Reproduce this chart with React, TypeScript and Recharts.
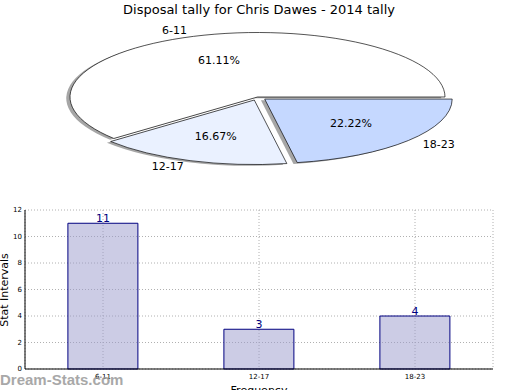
import { PieChart, Pie, Cell, BarChart, Bar, XAxis, YAxis, CartesianGrid, LabelList } from 'recharts';

const categories = ['6-11', '12-17', '18-23'];
const counts = [11, 3, 4];
const pieColors = ['#ffffff', '#eaf1ff', '#c5d8ff'];
const explode = [0, 0.05, 0.05];
const yTicks = [0, 2, 4, 6, 8, 10, 12];

const pieData = categories.map((name, i) => ({ name, value: counts[i] }));
const barData = categories.map((name, i) => ({ name, count: counts[i] }));

// the pie is drawn as a circle and squashed into an ellipse
const R = 187.5;
const K = 64.5 / R;
const CX = 257.5;
const CY = 97 / K;
const FONT = '"DejaVu Sans", sans-serif';

const total = counts.reduce((a, b) => a + b, 0);
function midAngle(i: number) {
  const before = counts.slice(0, i).reduce((a, b) => a + b, 0);
  return ((before + counts[i] / 2) / total) * 360;
}
function offset(i: number) {
  const a = (midAngle(i) * Math.PI) / 180;
  return { dx: Math.cos(a) * explode[i] * R, dy: -Math.sin(a) * explode[i] * R };
}

function makeLabel(own: number) {
  return (p: any) => {
    if (p.index !== own) return null;
    const a = (-p.midAngle * Math.PI) / 180;
    const lx = p.cx + R * 1.1 * Math.cos(a);
    const ly = p.cy + R * 1.1 * Math.sin(a);
    const px = p.cx + R * 0.6 * Math.cos(a);
    const py = p.cy + R * 0.6 * Math.sin(a);
    return (
      <g>
        <text transform={`translate(${lx} ${ly}) scale(1 ${1 / K})`} textAnchor={lx > CX ? 'start' : 'end'}
          dominantBaseline="central" fontSize={11} fontFamily={FONT} fill="#000">{p.name}</text>
        <text transform={`translate(${px} ${py}) scale(1 ${1 / K})`} textAnchor="middle"
          dominantBaseline="central" fontSize={11} fontFamily={FONT} fill="#000">{(p.percent * 100).toFixed(2)}%</text>
      </g>
    );
  };
}

export default function App() {
  return (
    <div style={{ position: 'absolute', left: 0, top: 0, width: 520, height: 390, background: '#fff', overflow: 'hidden', fontFamily: FONT }}>
      <div style={{ position: 'absolute', top: 2, left: 0, width: 518, textAlign: 'center', fontSize: 13 }}>
        Disposal tally for Chris Dawes - 2014 tally
      </div>
      <div style={{ position: 'absolute', left: 0, top: 0, width: 520, height: 600, transform: `scaleY(${K})`, transformOrigin: '0 0' }}>
        <PieChart width={520} height={600} margin={{ top: 0, right: 0, bottom: 0, left: 0 }}>
          {categories.map((c, i) => {
            const o = offset(i);
            return (
              <Pie key={'s' + c} data={pieData} dataKey="value" cx={CX + o.dx - 0.02 * R} cy={CY + o.dy + 0.02 * R}
                outerRadius={R} isAnimationActive={false} label={false}>
                {pieData.map((d, j) => (
                  <Cell key={d.name} fill={j === i ? '#4d4d4d' : 'none'} fillOpacity={0.5} stroke="none" />
                ))}
              </Pie>
            );
          })}
          {categories.map((c, i) => {
            const o = offset(i);
            return (
              <Pie key={c} data={pieData} dataKey="value" cx={CX + o.dx} cy={CY + o.dy}
                outerRadius={R} isAnimationActive={false} labelLine={false} label={makeLabel(i)}>
                {pieData.map((d, j) => (
                  <Cell key={d.name} fill={j === i ? pieColors[j] : 'none'} stroke={j === i ? '#000' : 'none'}
                    strokeWidth={1} vectorEffect="non-scaling-stroke" />
                ))}
              </Pie>
            );
          })}
        </PieChart>
      </div>
      <div style={{ position: 'absolute', left: 0, top: 0 }}>
        <BarChart width={520} height={390} data={barData} margin={{ top: 210, right: 27, bottom: 1, left: 5 }} barCategoryGap="27.5%">
          <CartesianGrid stroke="#b0b0b0" strokeDasharray="1 2" />
          <XAxis dataKey="name" height={20} tickLine={false} tickSize={1} axisLine={{ stroke: '#000' }}
            tick={{ fontSize: 7, fill: '#000', fontFamily: FONT }} tickMargin={4} />
          <XAxis xAxisId="top" dataKey="name" orientation="top" height={0} tick={false} tickLine={false} axisLine={{ stroke: '#000' }} />
          <YAxis width={20} domain={[0, 12]} ticks={yTicks} tickLine={false} tickSize={1} axisLine={{ stroke: '#000' }}
            tick={{ fontSize: 7, fill: '#000', fontFamily: FONT }} tickMargin={2} />
          <YAxis yAxisId="r" orientation="right" width={0} domain={[0, 12]} tick={false} tickLine={false} axisLine={{ stroke: '#000' }} />
          {/* half-transparent fill so the dotted grid shows through the bars */}
          <Bar dataKey="count" fill="#9999cb" fillOpacity={0.5} stroke="#000080" strokeWidth={1} isAnimationActive={false}>
            <LabelList dataKey="count" position="top" offset={1} fill="#000080" fontSize={11} fontFamily={FONT} />
          </Bar>
        </BarChart>
      </div>
      <div style={{ position: 'absolute', left: 4, top: 290, transform: 'translate(-50%, -50%) rotate(-90deg)', fontSize: 11, whiteSpace: 'nowrap' }}>
        Stat Intervals
      </div>
      <div style={{ position: 'absolute', left: 0, width: 518, top: 384, textAlign: 'center', fontSize: 11 }}>
        Frequency
      </div>
      <div style={{ position: 'absolute', left: 0, top: 371, fontSize: 15, fontWeight: 'bold', color: '#9a9a9a', opacity: 0.85, fontFamily: '"Liberation Sans", sans-serif' }}>
        Dream-Stats.com
      </div>
    </div>
  );
}
